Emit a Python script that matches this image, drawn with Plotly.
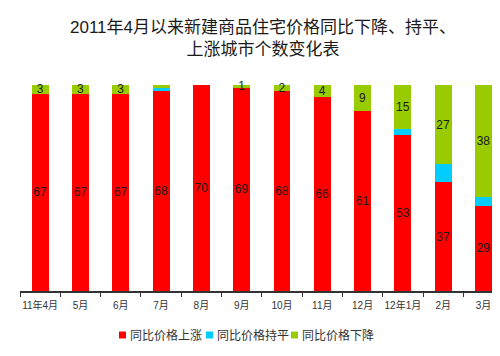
import plotly.graph_objects as go

categories = ["11年4月", "5月", "6月", "7月", "8月", "9月", "10月", "11月", "12月", "12年1月", "2月", "3月"]
rise = [67, 67, 67, 68, 70, 69, 68, 66, 61, 53, 37, 29]
flat = [0, 0, 0, 1, 0, 0, 0, 0, 0, 2, 6, 3]
fall = [3, 3, 3, 1, 0, 1, 2, 4, 9, 15, 27, 38]
fall_labels = ["3", "3", "3", "", "", "1", "2", "4", "9", "15", "27", "38"]
rise_labels = ["67", "67", "67", "68", "70", "69", "68", "66", "61", "53", "37", "29"]

names = ["同比价格上涨", "同比价格持平", "同比价格下降"]
colors = ["#FF0000", "#00CCFF", "#99CC00"]

FONT = "Liberation Sans, Arial, Noto Sans CJK SC, sans-serif"
txtfont = dict(family=FONT, size=12, color="#1a1a1a")

# the page body has an 8px default margin; the figure is offset accordingly
OFF = 8

fig = go.Figure()
fig.add_trace(go.Bar(x=categories, y=rise, name=names[0], marker=dict(color=colors[0], line=dict(width=0)),
                     text=rise_labels, textposition="inside", insidetextanchor="middle",
                     textangle=0, constraintext="none", textfont=txtfont, cliponaxis=False))
fig.add_trace(go.Bar(x=categories, y=flat, name=names[1], marker=dict(color=colors[1], line=dict(width=0)),
                     cliponaxis=False))
fig.add_trace(go.Bar(x=categories, y=fall, name=names[2], marker=dict(color=colors[2], line=dict(width=0)),
                     text=fall_labels, textposition="inside", insidetextanchor="middle",
                     textangle=0, constraintext="none", textfont=txtfont, cliponaxis=False))

# compact legend (squares + labels) below the axis; coordinates relative to plot area
legend_x = [119, 206, 291]  # left edge of each square, window px
legend_y = 335
shapes = []
annotations = []
for xpx, nm, col in zip(legend_x, names, colors):
    shapes.append(dict(type="rect", xref="paper", yref="paper",
                       x0=(xpx - 20) / 480, x1=(xpx + 7 - 20) / 480,
                       y0=(291 - legend_y - 3.5) / 206, y1=(291 - legend_y + 3.5) / 206,
                       fillcolor=col, line=dict(width=0)))
    annotations.append(dict(text=nm, xref="paper", yref="paper", x=(xpx + 9 - 20) / 480,
                            y=(291 - legend_y) / 206, xanchor="left", yanchor="middle",
                            showarrow=False, font=dict(family=FONT, size=12, color="#333333")))

fig.update_layout(
    barmode="stack",
    bargap=0.58,
    width=500, height=356,
    margin=dict(l=20 - OFF, r=OFF, t=85 - OFF, b=356 - (291 - OFF), autoexpand=False),
    paper_bgcolor="white", plot_bgcolor="white",
    font=dict(family=FONT, color="#1a1a1a"),
    uniformtext=dict(minsize=11, mode="show"),
    title=dict(text="2011年4月以来新建商品住宅价格同比下降、持平、<br>上涨城市个数变化表",
               x=0.51, xanchor="center", xref="container",
               y=1 - 25 / 356, yanchor="middle", yref="container",
               font=dict(family=FONT, size=17, color="#1a1a1a")),
    showlegend=False,
    shapes=shapes,
    annotations=annotations,
    xaxis=dict(type="category", range=[-0.5, 11.41], showline=True, linecolor="#333333", linewidth=1.5,
               ticks="outside", tickson="boundaries", ticklen=4, tickcolor="#333333", tickangle=0,
               automargin=False, ticklabelstandoff=4,
               tickfont=dict(size=10, color="#333333"), showgrid=False),
    yaxis=dict(range=[0, 70], visible=False, showgrid=False, automargin=False),
)

fig.write_html("out.html")
